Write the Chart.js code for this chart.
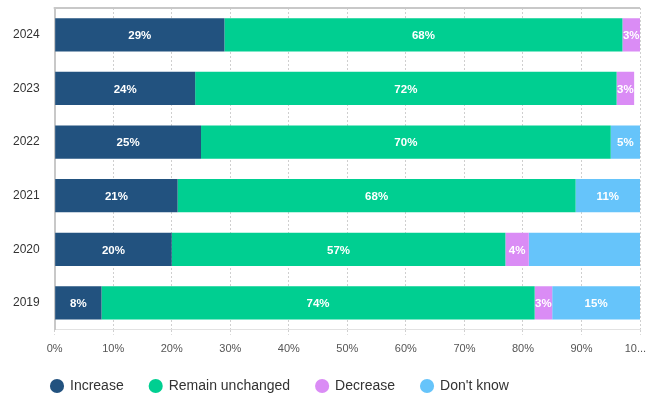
<!DOCTYPE html>
<html>
<head>
<meta charset="utf-8">
<script src="https://cdn.jsdelivr.net/npm/chart.js@4"></script>
<style>
  html, body { margin: 0; padding: 0; background: #fff; }
  #wrap { width: 646px; height: 394px; }
</style>
</head>
<body>
<div id="wrap"><canvas id="c"></canvas></div>
<script>
const years = ['2024', '2023', '2022', '2021', '2020', '2019'];
const seriesNames = ['Increase', 'Remain unchanged', 'Decrease', "Don't know"];
const increase = [29, 24, 25, 21, 20, 8];
const unchanged = [68, 72, 70, 68, 57, 74];
const decrease = [3, 3, 0, 0, 4, 3];
const dontKnow = [0, 0, 5, 11, 19, 15];
const xTicks = [0, 10, 20, 30, 40, 50, 60, 70, 80, 90, 100];
// the 2020 "Don't know" segment carries no label in the original
const hiddenLabels = ['3-4'];

const colors = ['#22527f', '#00cf91', '#da8cf5', '#66c4fa'];
const FONT = "'Liberation Sans', Arial, sans-serif";

// white value labels centred on each segment
const barLabels = {
  id: 'barLabels',
  afterDatasetsDraw(chart) {
    const ctx = chart.ctx;
    ctx.save();
    ctx.fillStyle = '#fff';
    ctx.font = "bold 11.5px " + FONT;
    ctx.textAlign = 'center';
    ctx.textBaseline = 'middle';
    chart.data.datasets.forEach((ds, di) => {
      chart.getDatasetMeta(di).data.forEach((bar, i) => {
        const v = ds.data[i];
        if (!v || hiddenLabels.includes(di + '-' + i)) return;
        ctx.fillText(v + '%', (bar.x + bar.base) / 2, bar.y + 1);
      });
    });
    ctx.restore();
  }
};

// grey line along the top of the plot
const topLine = {
  id: 'topLine',
  beforeDatasetsDraw(chart) {
    const a = chart.chartArea, ctx = chart.ctx;
    ctx.save();
    ctx.strokeStyle = '#c8c8c8';
    ctx.lineWidth = 2;
    ctx.beginPath();
    ctx.moveTo(a.left - 1, a.top);
    ctx.lineTo(a.right, a.top);
    ctx.stroke();
    ctx.restore();
  }
};

// legend: wide gaps between items but a short box, moved right
const legendFit = {
  id: 'legendFit',
  afterInit(chart) {
    const lg = chart.legend;
    const fit = lg.fit.bind(lg);
    lg.fit = function () { fit(); this.height = 38; };
  },
  afterLayout(chart) {
    chart.legend.left += 12;
    chart.legend.top -= 3;
  }
};

const series = [increase, unchanged, decrease, dontKnow];

new Chart(document.getElementById('c').getContext('2d'), {
  type: 'bar',
  data: {
    labels: years,
    datasets: series.map((d, i) => ({
      label: seriesNames[i],
      data: d,
      backgroundColor: colors[i],
      borderWidth: 0,
      barPercentage: 0.62,
      categoryPercentage: 1
    }))
  },
  options: {
    indexAxis: 'y',
    responsive: true,
    maintainAspectRatio: false,
    animation: false,
    layout: { padding: { top: 8, right: 6, left: 13, bottom: 0 } },
    plugins: {
      legend: {
        position: 'bottom',
        align: 'start',
        labels: {
          usePointStyle: true,
          pointStyle: 'circle',
          boxWidth: 12,
          boxHeight: 10,
          padding: 26,
          color: '#333',
          font: { size: 14, family: FONT }
        }
      },
      tooltip: { enabled: false }
    },
    scales: {
      x: {
        stacked: true,
        min: 0,
        max: 100,
        afterBuildTicks: s => { s.ticks = xTicks.map(v => ({ value: v })); },
        afterFit: s => {
          s.paddingRight = 0;
          s.paddingLeft = 0;
          s.height -= s.options.ticks.padding;
        },
        grid: {
          color: '#cfcfcf',
          lineWidth: 1,
          tickLength: 5,
          tickBorderDash: [2, 2]
        },
        border: { display: true, color: '#e2e2e2', width: 1, dash: [2, 2] },
        ticks: {
          color: '#555',
          padding: 8,
          maxRotation: 0,
          autoSkip: false,
          font: { size: 11, family: FONT },
          callback: v => v === 100 ? '10...   ' : v + '%'
        }
      },
      y: {
        stacked: true,
        afterFit: s => {
          s.paddingTop = 0;
          s.paddingBottom = 0;
          s.width -= s.options.ticks.padding;
        },
        grid: { display: false, drawTicks: false },
        border: { display: true, color: '#c8c8c8', width: 2 },
        ticks: {
          color: '#333',
          padding: 15,
          font: { size: 12, family: FONT }
        }
      }
    }
  },
  plugins: [barLabels, topLine, legendFit]
});
</script>
</body>
</html>
